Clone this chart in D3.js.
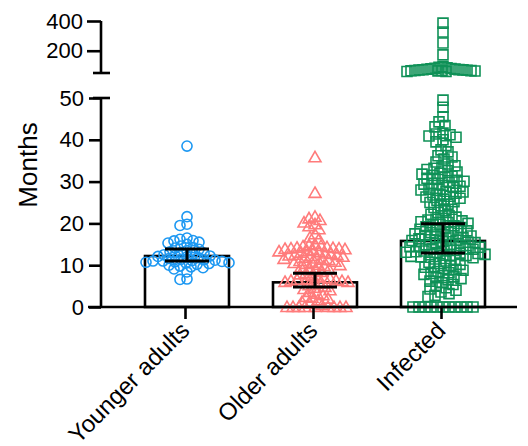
<!DOCTYPE html>
<html>
<head>
<meta charset="utf-8">
<script src="https://cdn.jsdelivr.net/npm/d3@7"></script>
<style>
  body { margin: 0; background: #fff; }
  text { font-family: Arial, "Liberation Sans", Helvetica, sans-serif; fill: #000; }
</style>
</head>
<body>
<svg id="chart" width="528" height="446"></svg>
<script>
// Groups and summary statistics (median with 95% CI)
const categories = ["Younger adults", "Older adults", "Infected"];
const medians = [12.2, 5.9, 15.8];
const ciLow = [11.0, 4.8, 12.9];
const ciHigh = [13.9, 8.1, 19.9];

// Individual observations, months
const youngerAdults = [38.5, 21.6, 19.8, 19.5, 16.5, 16.2, 15.9, 15.8, 15.5, 15.3, 15.0, 14.6,
  14.2, 14.1, 13.8, 13.5, 13.2, 13.0, 12.9, 12.7, 12.5, 12.3, 12.2, 12.1, 12.0, 11.8, 11.6,
  11.4, 11.3, 11.2, 11.1, 11.0, 11.0, 10.9, 10.8, 10.7, 10.6, 10.5, 10.4, 10.2, 10.0, 9.8,
  9.6, 9.4, 9.1, 8.4, 6.7, 6.6];

const olderAdults = [35.8, 27.3, 21.6, 21.2, 20.8, 20.2, 19.8, 19.3, 18.6, 17.4, 16.6, 16.2,
  15.0, 14.8, 14.6, 14.5, 14.3, 14.2, 14.1, 14.0, 14.0, 13.9, 13.8,
  13.6, 13.4, 13.3, 13.1, 13.0, 12.8, 12.7, 12.5, 12.4, 12.3, 12.2, 12.0,
  11.8, 11.6, 11.5, 11.3, 11.2, 11.0, 10.8, 10.6, 10.5, 10.3, 10.1, 10.0,
  9.8, 9.5, 9.2, 9.0, 8.7, 8.4, 8.1,
  7.8, 7.5, 7.2, 7.0, 6.8, 6.6, 6.5, 6.4, 6.3, 6.2, 6.1, 6.0, 6.0,
  5.6, 5.2, 4.8, 4.6, 4.3, 4.0, 3.6, 3.2, 2.8, 2.4, 2.2, 2.0, 1.6, 1.2, 0.8, 0.4,
  0, 0, 0, 0, 0, 0, 0, 0, 0];

const infected = [386, 326, 252, 172,
  92, 88, 85, 82, 80, 78, 76, 75, 73, 72, 71, 70, 69, 68, 67, 66, 65, 64, 63, 61, 60,
  49.5, 47.8, 45.5, 44.3, 43.4, 43.1, 41.6, 41.4, 41.2, 40.9, 40.6, 40.0, 39.5, 38.6, 37.6,
  37.1, 36.2, 35.9, 35.4, 34.7, 34.2, 33.8, 33.5, 33.2, 32.9, 32.6, 32.3, 32.0, 31.8, 31.5,
  31.3, 31.0, 30.8, 30.5, 30.3, 30.1, 29.8, 29.6, 29.4, 29.1, 28.9, 28.6, 28.4, 28.2, 28.0,
  27.7, 27.5, 27.2, 27.0, 26.8, 26.5, 26.3, 26.0, 25.8, 25.5, 25.2, 25.0, 24.6, 24.2, 23.8,
  23.4, 23.0, 22.6, 22.2, 21.8, 21.5, 21.2, 21.0, 20.8, 20.6, 20.4, 20.2, 20.0,
  19.8, 19.6, 19.4, 19.2, 19.0, 18.8, 18.6, 18.4, 18.2, 18.0, 17.8, 17.6, 17.5, 17.3, 17.1,
  17.0, 16.8, 16.6, 16.5, 16.3, 16.1, 16.0, 15.9, 15.7, 15.5, 15.4, 15.2, 15.0,
  14.9, 14.7, 14.6, 14.4, 14.3, 14.2, 14.0, 13.9, 13.8, 13.6, 13.5, 13.4, 13.2, 13.1, 13.0,
  12.9, 12.8, 12.6, 12.5, 12.4, 12.3, 12.2, 12.1, 12.0,
  11.8, 11.5, 11.2, 11.0, 10.7, 10.4, 10.2, 10.0, 9.7, 9.5, 9.2, 9.0, 8.8, 8.5, 8.2, 8.0,
  7.8, 7.5, 7.2, 7.0,
  6.8, 6.5, 6.2, 5.8, 5.4, 5.0, 4.6, 4.3, 4.0, 3.6, 3.2, 2.8, 2.5,
  0, 0, 0, 0, 0, 0, 0, 0, 0, 0, 0];

const lowerTicks = [0, 10, 20, 30, 40, 50];
const upperTicks = [200, 400];

const groups = [youngerAdults, olderAdults, infected];
const colors = ["#1d98f2", "#ff7b7b", "#0f9157"];
const shapes = [d3.symbolCircle, d3.symbolTriangle, d3.symbolSquare];
const symSizes = [80, 62, 100];
const minDists = [6.2, 6.0, 6.4];
const zeroGap = [6, 5.6, 5.6];

const svg = d3.select("#chart");
const axisX = 101, baseY = 307;

// Broken y axis: lower segment 0–50, upper segment 50–400
const yLow = d3.scaleLinear().domain([0, 50]).range([baseY, 98]);
const yHigh = d3.scaleLinear().domain([50, 400]).range([73, 21]);
const yOf = v => v <= 50 ? yLow(v) : yHigh(v);

const x = d3.scalePoint().domain(categories).range([185, 441]);
const barW = 84;

// Bars (median)
svg.append("g").selectAll("rect").data(categories).join("rect")
  .attr("x", d => x(d) + 2 - barW / 2)
  .attr("y", (d, i) => yLow(medians[i]))
  .attr("width", barW)
  .attr("height", (d, i) => baseY - yLow(medians[i]))
  .attr("fill", "#fff")
  .attr("stroke", "#000")
  .attr("stroke-width", 2.6);

// Dot swarm: greedy placement at the nearest free horizontal offset
function swarm(values, cx, minDist, zGap) {
  const pts = values.map(v => ({ v, y: yOf(v) })).sort((a, b) => b.v - a.v);
  const placed = [];
  pts.forEach(p => {
    const md = p.v > 50 ? 3.7 : (p.v === 0 ? zGap : minDist);
    for (let k = 0; k < 400; k++) {
      const off = (k % 2 === 0 ? 1 : -1) * Math.ceil(k / 2);
      const px = cx + off;
      const ok = placed.every(q => {
        const dx = q.x - px, dy = q.y - p.y;
        return dx * dx + dy * dy >= md * md;
      });
      if (ok) { p.x = px; placed.push(p); break; }
    }
  });
  return placed;
}

groups.forEach((vals, i) => {
  const pts = swarm(vals, x(categories[i]) + 2, minDists[i], zeroGap[i]);
  const sym = d3.symbol().type(shapes[i]).size(symSizes[i]);
  svg.append("g").selectAll("path").data(pts).join("path")
    .attr("d", sym)
    .attr("transform", d => `translate(${d.x},${d.y + (i === 1 ? 1 : 0)})`)
    .attr("fill", "none")
    .attr("stroke", colors[i])
    .attr("stroke-width", 1.6);
});

// Error bars (95% CI)
const eb = svg.append("g").attr("stroke", "#000").attr("stroke-width", 3);
categories.forEach((c, i) => {
  const cx = x(c) + 2;
  eb.append("line").attr("x1", cx).attr("x2", cx)
    .attr("y1", yLow(ciLow[i])).attr("y2", yLow(ciHigh[i]));
  [ciLow[i], ciHigh[i]].forEach(v => {
    eb.append("line").attr("x1", cx - 22).attr("x2", cx + 22)
      .attr("y1", yLow(v)).attr("y2", yLow(v));
  });
});

// Axes
const styleAxis = g => {
  g.selectAll("line, path").attr("stroke", "#000").attr("stroke-width", 2.6);
  g.selectAll("text").attr("font-size", 22).attr("fill", "#000");
};

svg.append("g").attr("transform", `translate(${axisX},0)`)
  .call(d3.axisLeft(yLow).tickValues(lowerTicks).tickSize(12).tickSizeOuter(0).tickPadding(5))
  .call(styleAxis)
  .call(g => g.select(".domain").attr("d", `M0,${baseY}V${yLow(50)}`));

svg.append("g").attr("transform", `translate(${axisX},0)`)
  .call(d3.axisLeft(yHigh).tickValues(upperTicks).tickSize(14).tickSizeOuter(0).tickPadding(4))
  .call(styleAxis)
  .call(g => g.select(".domain").attr("d", `M0,${yHigh(400)}V${yHigh(50)}`));

// End caps at the axis break
[yLow(50), yHigh(50)].forEach(yy => {
  svg.append("line").attr("x1", axisX - 8).attr("x2", axisX + 9)
    .attr("y1", yy).attr("y2", yy)
    .attr("stroke", "#000").attr("stroke-width", 2.6);
});

// X axis
const xg = svg.append("g").attr("transform", `translate(0,${baseY})`)
  .call(d3.axisBottom(x).tickSize(12).tickSizeOuter(0).tickFormat(""))
  .call(styleAxis);
xg.select(".domain").attr("d", `M${axisX - 13},0H517`);

svg.append("g").selectAll("text").data(categories).join("text")
  .attr("transform", d => `translate(${x(d) + 6},${baseY + 25}) rotate(-45)`)
  .attr("text-anchor", "end")
  .attr("font-size", 24)
  .text(d => d);

// Y title
svg.append("text")
  .attr("transform", "translate(37,165) rotate(-90)")
  .attr("text-anchor", "middle")
  .attr("font-size", 26)
  .text("Months");
</script>
</body>
</html>
